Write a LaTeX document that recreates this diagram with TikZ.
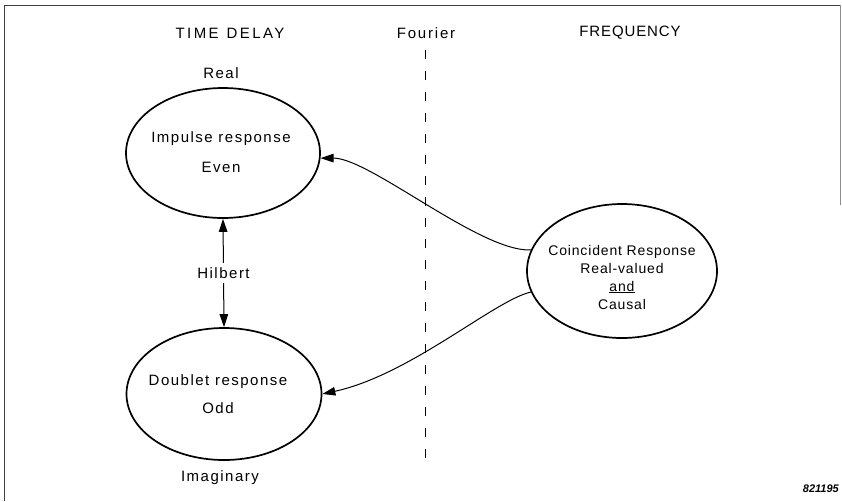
\documentclass[tikz,border=0pt]{standalone}
\usepackage{fontspec}
\setmainfont{Liberation Sans}
\usetikzlibrary{shapes.geometric,arrows.meta}
\tikzset{
  >={Triangle[length=13pt,width=8.5pt]},
  bubble/.style={ellipse, draw, line width=1.7pt, inner sep=0pt},
  label/.style={font=\fontsize{15}{18}\selectfont\addfontfeatures{LetterSpace=10}, inner sep=0pt, align=center},
  head/.style={font=\fontsize{15}{18}\selectfont\addfontfeatures{LetterSpace=12}, inner sep=0pt},
  link/.style={line width=1pt, ->},
  frame/.style={black!75, line width=0.8pt}
}
\begin{document}
\begin{tikzpicture}[x=1pt, y=-1pt]
  \useasboundingbox (0,0) rectangle (842,501);
  % partial border of the plate
  \draw[frame] (4,501) -- (4,5) -- (840,5);
  \draw[black!45, line width=0.6pt] (840,5) -- (840,205);

  % column headings
  \node[head, font=\fontsize{15}{18}\selectfont\addfontfeatures{LetterSpace=16}] (tdelay) at (230,33) {TIME\hspace{8pt}DELAY};
  \node[head] (fourier) at (426,33) {Fourier};
  \node[head, font=\fontsize{15}{18}\selectfont\addfontfeatures{LetterSpace=6}] (freq) at (630,33) {FREQUENCY};

  % Fourier divide
  \coordinate (divtop) at (425,50);
  \coordinate (divbot) at (425,466);
  \draw[line width=1pt, dash pattern=on 9pt off 12pt] (divtop) -- (divbot);

  % time-delay responses
  \node[bubble, minimum width=194pt, minimum height=130pt] (imp) at (223,153) {};
  \node[label] (imptext) at (221,152) {Impulse response\\[12pt]Even};
  \node[bubble, minimum width=195pt, minimum height=132pt] (dob) at (224,394) {};
  \node[label] (dobtext) at (218,394) {Doublet response\\[10pt]Odd};

  \node[label] (real) at (221,73) {Real};
  \node[label] (imag) at (220,478) {Imaginary};

  % Hilbert pair
  \draw[line width=1pt, <->]
    (imp.south) -- node[label, fill=white, inner ysep=4pt] (hilbert) {Hilbert} (dob.north);

  % frequency-domain response
  \node[bubble, minimum width=190pt, minimum height=134pt] (coin) at (622,271) {};
  \node[font=\fontsize{14}{18}\selectfont\addfontfeatures{LetterSpace=6}, inner sep=0pt, align=center] (cointext) at (622,277)
    {Coincident Response\\Real-valued\\\underline{and}\\Causal};

  % Fourier links
  \draw[link] (coin.167) .. controls (480,252) and (370,158) .. (imp.-3);
  \draw[link] (coin.193) .. controls (495,300) and (410,375) .. (dob.east);

  % plate number
  \node[font=\fontsize{11}{12}\bfseries\itshape\selectfont, anchor=base east, inner sep=0pt] (plate) at (839,492) {821195};
\end{tikzpicture}
\end{document}
